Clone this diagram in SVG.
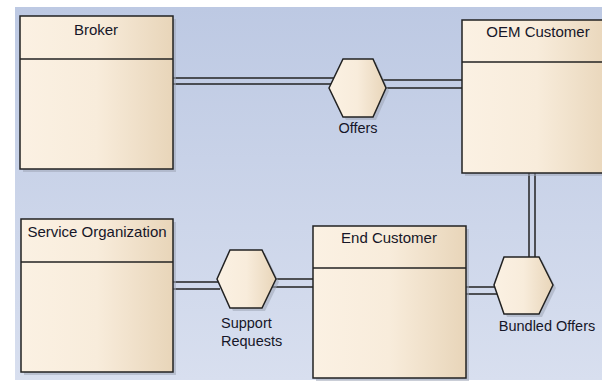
<svg xmlns="http://www.w3.org/2000/svg" width="602" height="381" viewBox="0 0 602 381">
<defs>
<linearGradient id="bg" x1="0" y1="0" x2="0" y2="1">
<stop offset="0" stop-color="#BDC9E3"/>
<stop offset="1" stop-color="#D8DFEF"/>
</linearGradient>
<linearGradient id="fill" x1="0" y1="0" x2="1" y2="0">
<stop offset="0" stop-color="#FBF1E3"/>
<stop offset="0.5" stop-color="#F8ECDB"/>
<stop offset="1" stop-color="#E8D5B9"/>
</linearGradient>
<style>
.box{fill:url(#fill);stroke:#222;stroke-width:1.5}
.shadow{fill:#9EA6B6;opacity:0.55}
.hdr{stroke:#222;stroke-width:1.3}
.hex{fill:url(#fill);stroke:#222;stroke-width:1.5}
.con line{stroke:#222;stroke-width:1.5}
text{font-family:"Liberation Sans",Arial,sans-serif;font-size:14.5px;fill:#161628}
.t{font-size:15px}
.c{text-anchor:middle}
</style>
</defs>
<rect x="0" y="0" width="602" height="381" fill="#FFFFFF"/>
<rect x="15" y="7" width="587" height="373" fill="url(#bg)"/>

<g id="connectors" class="con">
<line x1="173" y1="78" x2="334" y2="78"/>
<line x1="173" y1="84" x2="332" y2="84"/>
<line x1="382" y1="80" x2="462" y2="80"/>
<line x1="382" y1="88" x2="462" y2="88"/>
<line x1="529" y1="173" x2="529" y2="260"/>
<line x1="535" y1="173" x2="535" y2="260"/>
<line x1="466" y1="287" x2="497" y2="287"/>
<line x1="466" y1="294" x2="497" y2="294"/>
<line x1="173" y1="282" x2="221" y2="282"/>
<line x1="173" y1="289" x2="220" y2="289"/>
<line x1="272" y1="279" x2="313" y2="279"/>
<line x1="272" y1="287" x2="313" y2="287"/>
</g>

<g id="broker">
<rect class="shadow" x="23" y="19" width="153" height="153"/>
<rect class="box" x="20" y="16" width="153" height="153"/>
<line class="hdr" x1="20" y1="59" x2="173" y2="59"/>
<text class="c t" x="96" y="35">Broker</text>
</g>

<g id="oem-customer">
<rect class="shadow" x="465" y="23" width="150" height="153"/>
<rect class="box" x="462" y="20" width="150" height="153"/>
<line class="hdr" x1="462" y1="62" x2="612" y2="62"/>
<text class="c t" x="538" y="37">OEM Customer</text>
</g>

<g id="service-organization">
<rect class="shadow" x="24" y="222" width="152" height="153"/>
<rect class="box" x="21" y="219" width="152" height="153"/>
<line class="hdr" x1="21" y1="262" x2="173" y2="262"/>
<text class="c t" x="97" y="237">Service Organization</text>
</g>

<g id="end-customer">
<rect class="shadow" x="316" y="229" width="153" height="152"/>
<rect class="box" x="313" y="226" width="153" height="152"/>
<line class="hdr" x1="313" y1="268" x2="466" y2="268"/>
<text class="c t" x="389" y="243">End Customer</text>
</g>

<g id="offers">
<polygon class="shadow" points="332,91 346,62 376,62 389,91 376,120 346,120"/>
<polygon class="hex" points="329,88 343,59 373,59 386,88 373,117 343,117"/>
<text class="c" x="358" y="133">Offers</text>
</g>

<g id="support-requests">
<polygon class="shadow" points="220,282 233,253 265,253 279,282 265,311 233,311"/>
<polygon class="hex" points="217,279 230,250 262,250 276,279 262,308 230,308"/>
<text x="221" y="328">Support</text>
<text x="221" y="346">Requests</text>
</g>

<g id="bundled-offers">
<polygon class="shadow" points="497,288 507,260 542,260 556,288 542,317 507,317"/>
<polygon class="hex" points="494,285 504,257 539,257 553,285 539,314 504,314"/>
<text class="c" x="547" y="331">Bundled Offers</text>
</g>
</svg>
